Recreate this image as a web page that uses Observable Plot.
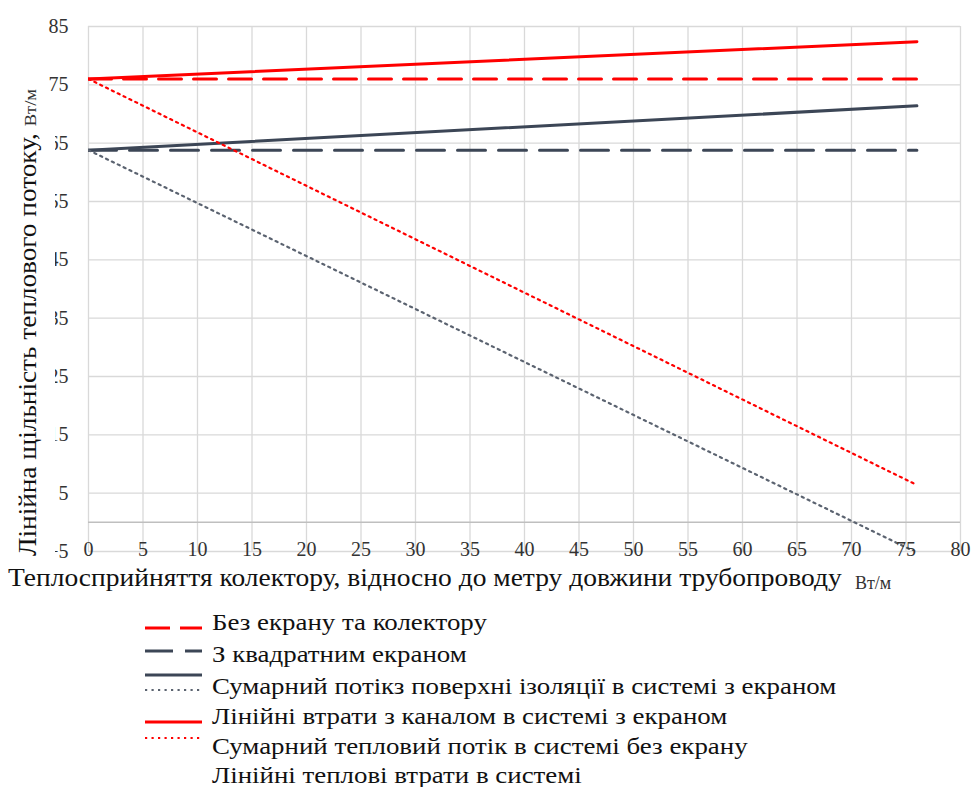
<!DOCTYPE html>
<html><head><meta charset="utf-8">
<script src="https://cdn.jsdelivr.net/npm/d3@7"></script>
<script src="https://cdn.jsdelivr.net/npm/@observablehq/plot@0.6"></script>
<style>
body{margin:0;background:#fff;font-family:"Liberation Serif","DejaVu Serif","Times New Roman",serif;}
#chart svg, #legend svg{display:block;}
</style></head><body><div id="chart"></div><div id="legend"></div>
<script>
// ---- data ----
const xValues = [0, 76];
const seriesNames = [
  "Без екрану та колектору",
  "З квадратним екраном",
  "Сумарний потікз поверхні ізоляції в системі з екраном",
  "Лінійні втрати з каналом в системі з екраном",
  "Сумарний тепловий потік в системі без екрану",
  "Лінійні теплові втрати в системі"
];
const bezEkranuTaKolektoru = [76.0, 76.0];
const zKvadratnymEkranom = [63.8, 63.8];
const sumarnyiPotikIzolyatsii = [63.8, 71.4];
const liniiniVtratyZKanalom = [63.8, -5.2];
const sumarnyiTeplovyiPotik = [76.0, 82.4];
const liniiniTeploviVtraty = [76.0, 6.4];
const xTicks = [0,5,10,15,20,25,30,35,40,45,50,55,60,65,70,75,80];
const yTicks = [-5,5,15,25,35,45,55,65,75,85];
const xTitle = "Теплосприйняття колектору, відносно до метру довжини трубопроводу";
const yTitle = "Лінійна щільність теплового потоку, ";
const unit = "Вт/м";

const FONT = 'Liberation Serif, DejaVu Serif, Times New Roman, serif';

// widen a text element horizontally by factor k
function widen(sel, k) {
  const n = sel.node();
  const len = n.getComputedTextLength();
  sel.attr("textLength", len * k).attr("lengthAdjust", "spacingAndGlyphs");
}

// ---- styles per series ----
const RED = "#ff0000", DARK = "#3c4656", GREY = "#5b6370";
const styles = [
  {stroke: RED,  strokeWidth: 3,   dash: "23,12"},
  {stroke: DARK, strokeWidth: 3,   dash: "28,13"},
  {stroke: DARK, strokeWidth: 3,   dash: null},
  {stroke: GREY, strokeWidth: 2.2, dash: "2.2,4.3"},
  {stroke: RED,  strokeWidth: 3,   dash: null},
  {stroke: RED,  strokeWidth: 2.2, dash: "2.2,4.3"}
];
const allValues = [bezEkranuTaKolektoru, zKvadratnymEkranom, sumarnyiPotikIzolyatsii,
  liniiniVtratyZKanalom, sumarnyiTeplovyiPotik, liniiniTeploviVtraty];

const lineMarks = allValues.map((vals, i) => {
  const rows = xValues.map((x, j) => ({x, y: vals[j], s: seriesNames[i]}));
  const st = styles[i];
  return Plot.line(rows, {x: "x", y: "y", stroke: st.stroke, strokeWidth: st.strokeWidth,
    strokeDasharray: st.dash || undefined, clip: true});
});

const chart = Plot.plot({
  width: 974, height: 600,
  marginLeft: 88, marginRight: 14, marginTop: 26, marginBottom: 49,
  style: {fontFamily: FONT, fontSize: "20px", color: "#333", background: "#fff"},
  x: {domain: [0, 80]},
  y: {domain: [-5, 85]},
  marks: [
    Plot.gridX(xTicks, {stroke: "#d9d9d9", strokeOpacity: 1, strokeWidth: 1.3}),
    Plot.gridY(yTicks, {stroke: "#d9d9d9", strokeOpacity: 1, strokeWidth: 1.3}),
    Plot.ruleY([0], {stroke: "#bfbfbf", strokeWidth: 1.5}),
    ...lineMarks,
    Plot.axisY(yTicks, {tickSize: 0, tickPadding: 20, label: null, fontSize: 20, fill: "#333"}),
    Plot.axisX(xTicks, {tickSize: 0, tickPadding: 0, dy: -10, label: null, fontSize: 20, fill: "#333"})
  ]
});
document.getElementById("chart").appendChild(chart);

// titles
const svg = d3.select(chart);
svg.append("rect").attr("x", 0).attr("y", 100).attr("width", 55).attr("height", 465).attr("fill", "#fff");
const yt = svg.append("text")
  .attr("transform", "translate(36,556) rotate(-90)")
  .attr("text-anchor", "start")
  .attr("font-size", 25).attr("fill", "#111")
  .attr("font-family", FONT);
yt.append("tspan").text(yTitle);
yt.append("tspan").attr("font-size", 17).attr("fill", "#333").text(unit);
widen(yt, 1.09);

const xt = svg.append("text").attr("x", 8).attr("y", 586)
  .attr("text-anchor", "start")
  .attr("font-size", 25).attr("fill", "#111")
  .attr("font-family", FONT)
  .text(xTitle);
widen(xt, 1.10);
svg.append("text").attr("x", 855).attr("y", 589)
  .attr("text-anchor", "start")
  .attr("font-size", 18).attr("fill", "#333")
  .attr("font-family", FONT)
  .text(unit);

// legend
const swatchY = [28, 51, 75, 90, 122, 138];
const textY = [22, 54, 86, 116, 146, 175];
const lg = d3.select("#legend").append("svg").attr("width", 974).attr("height", 187)
  .attr("font-family", FONT);
const legendDash = ["25,10", "28,12", null, "2.2,4.3", null, "2.2,4.3"];
styles.forEach((st, i) => {
  const l = lg.append("line").attr("x1", 145).attr("x2", 202).attr("y1", swatchY[i]).attr("y2", swatchY[i])
    .attr("stroke", st.stroke).attr("stroke-width", st.strokeWidth);
  if (legendDash[i]) l.attr("stroke-dasharray", legendDash[i]);
  const t = lg.append("text").attr("x", 212).attr("y", textY[i]).attr("dy", "0.35em")
    .attr("font-size", 24).attr("fill", "#111").text(seriesNames[i]);
  widen(t, 1.12);
});
</script></body></html>
